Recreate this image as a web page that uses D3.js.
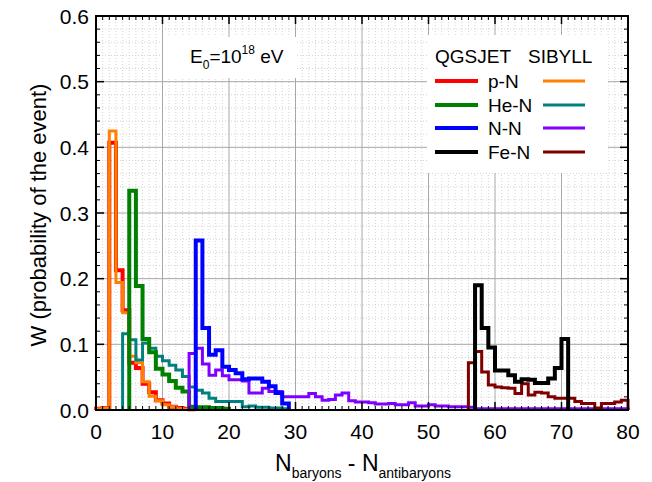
<!DOCTYPE html>
<html>
<head>
<meta charset="utf-8">
<script src="https://cdn.jsdelivr.net/npm/d3@7"></script>
<style>
  body { margin: 0; background: #fff; }
  svg { display: block; font-family: "Liberation Sans", Arial, sans-serif; }
</style>
</head>
<body>
<svg width="652" height="482"></svg>
<script>
const width = 652, height = 482;
const margin = { left: 96, right: 24, top: 16, bottom: 72 };

// histogram bins of width 1: first bin start, then W per bin
const pN_qgs_start = 0;
const pN_qgs = [0.002, 0.003, 0.407, 0.213, 0.152, 0.072, 0.064, 0.040, 0.027, 0.015, 0.010, 0.005, 0.003, 0.002, 0.001];
const pN_sib_start = 0;
const pN_sib = [0.002, 0.003, 0.425, 0.194, 0.148, 0.082, 0.072, 0.043, 0.021, 0.014, 0.008, 0.005, 0.002, 0.001];
const heN_qgs_start = 5;
const heN_qgs = [0.334, 0.189, 0.108, 0.088, 0.063, 0.054, 0.044, 0.034, 0.028, 0.005, 0.004, 0.004, 0.003, 0.003, 0.002];
const heN_sib_start = 4;
const heN_sib = [0.116, 0.107, 0.076, 0.102, 0.094, 0.082, 0.075, 0.068, 0.061, 0.051, 0.035, 0.030, 0.026, 0.018,
  0.013, 0.013, 0.013, 0.013, 0.005, 0.006, 0.004, 0.004, 0.003, 0.003, 0.002];
const nN_qgs_start = 15;
const nN_qgs = [0.258, 0.125, 0.084, 0.091, 0.066, 0.061, 0.056, 0.047, 0.048, 0.048, 0.043, 0.036, 0.026, 0.010];
const nN_sib_start = 14;
const nN_sib = [0.086, 0.094, 0.070, 0.053, 0.061, 0.052, 0.046, 0.046, 0.044, 0.026, 0.026, 0.033, 0.028, 0.028,
  0.020, 0.020, 0.020, 0.020, 0.025, 0.020, 0.015, 0.016, 0.023, 0.026, 0.014, 0.012, 0.012, 0.011, 0.009, 0.009,
  0.010, 0.008, 0.008, 0.011, 0.006, 0.006, 0.008, 0.006, 0.006, 0.005, 0.005, 0.005, 0.004,
  0.002, 0.002, 0.002, 0.002, 0.002, 0.002, 0.002, 0.002, 0.002, 0.002, 0.002, 0.002, 0.002, 0.002, 0.002,
  0.002, 0.002, 0.002, 0.002, 0.002, 0.002, 0.002, 0.002];
const feN_qgs_start = 57;
const feN_qgs = [0.190, 0.125, 0.095, 0.060, 0.060, 0.053, 0.043, 0.047, 0.046, 0.041, 0.041, 0.048, 0.064, 0.108];
const feN_sib_start = 56;
const feN_sib = [0.072, 0.089, 0.058, 0.038, 0.035, 0.034, 0.033, 0.025, 0.040, 0.023, 0.027, 0.026, 0.020, 0.018,
  0.018, 0.018, 0.013, 0.010, 0.010, 0.003, 0.010, 0.010, 0.012, 0.015];

const reactions = ["p-N", "He-N", "N-N", "Fe-N"];
const qgsColors = ["#ff0000", "#008000", "#0000ff", "#000000"];
const sibColors = ["#ff8000", "#008080", "#8000ff", "#800000"];

const xTicks = [0, 10, 20, 30, 40, 50, 60, 70, 80];
const yTicks = [0.0, 0.1, 0.2, 0.3, 0.4, 0.5, 0.6];

// drawing order: later ones on top
const series = [
  { start: pN_qgs_start, values: pN_qgs, color: qgsColors[0], w: 4 },
  { start: pN_sib_start, values: pN_sib, color: sibColors[0], w: 3 },
  { start: heN_sib_start, values: heN_sib, color: sibColors[1], w: 3 },
  { start: heN_qgs_start, values: heN_qgs, color: qgsColors[1], w: 4 },
  { start: nN_sib_start, values: nN_sib, color: sibColors[2], w: 3 },
  { start: nN_qgs_start, values: nN_qgs, color: qgsColors[2], w: 4 },
  { start: feN_sib_start, values: feN_sib, color: sibColors[3], w: 3 },
  { start: feN_qgs_start, values: feN_qgs, color: qgsColors[3], w: 4 }
];

const svg = d3.select("svg");
const x = d3.scaleLinear().domain([0, 80]).range([margin.left, width - margin.right]);
const y = d3.scaleLinear().domain([0, 0.6]).range([height - margin.bottom, margin.top]);
const x0 = x(0), x1 = x(80), y0 = y(0), y1 = y(0.6);

svg.append("rect").attr("width", width).attr("height", height).attr("fill", "#fff");

// minor dotted grid
const grid = svg.append("g");
grid.selectAll("line.mx").data(d3.range(1, 80).filter(d => d % 10 !== 0)).join("line")
  .attr("x1", d => x(d)).attr("x2", d => x(d)).attr("y1", y0).attr("y2", y1)
  .attr("stroke", "#d4d4d4").attr("stroke-dasharray", "1,2");
grid.selectAll("line.my").data(d3.range(1, 30).filter(d => d % 5 !== 0).map(d => d * 0.02)).join("line")
  .attr("x1", x0).attr("x2", x1).attr("y1", d => y(d)).attr("y2", d => y(d))
  .attr("stroke", "#d4d4d4").attr("stroke-dasharray", "1,2");
// major grid
grid.selectAll("line.gx").data(xTicks.slice(1, -1)).join("line")
  .attr("x1", d => x(d)).attr("x2", d => x(d)).attr("y1", y0).attr("y2", y1)
  .attr("stroke", "#a8a8a8").attr("stroke-width", 1);
grid.selectAll("line.gy").data(yTicks.slice(1, -1)).join("line")
  .attr("x1", x0).attr("x2", x1).attr("y1", d => y(d)).attr("y2", d => y(d))
  .attr("stroke", "#a8a8a8").attr("stroke-width", 1);

// histograms as steps
const line = d3.line().x(d => x(d[0])).y(d => y(d[1])).curve(d3.curveStepAfter);
const plot = svg.append("g");
series.forEach(s => {
  const pts = [[s.start, 0]];
  s.values.forEach((v, i) => pts.push([s.start + i, v]));
  pts.push([s.start + s.values.length, 0]);
  plot.append("path").attr("d", line(pts))
    .attr("fill", "none").attr("stroke", s.color).attr("stroke-width", s.w)
    .attr("stroke-linejoin", "miter");
});

// energy label box
const ebox = svg.append("g");
ebox.append("rect").attr("x", 163).attr("y", 37).attr("width", 134).attr("height", 41).attr("fill", "#fff");
const et = ebox.append("text").attr("x", 190).attr("y", 63).attr("font-size", 19).attr("fill", "#000");
et.append("tspan").text("E");
et.append("tspan").attr("font-size", 12).attr("dy", 6).text("0");
et.append("tspan").attr("dy", -6).text("=10");
et.append("tspan").attr("font-size", 12).attr("dy", -9).text("18");
et.append("tspan").attr("dy", 9).text(" eV");

// legend
const lg = svg.append("g");
lg.append("rect").attr("x", 427).attr("y", 35).attr("width", 181).attr("height", 138).attr("fill", "#fff");
lg.append("text").attr("x", 435).attr("y", 63).attr("font-size", 19).text("QGSJET");
lg.append("text").attr("x", 528).attr("y", 63).attr("font-size", 19).text("SIBYLL");
const rowY = [81, 105, 128, 152];
reactions.forEach((r, i) => {
  lg.append("line").attr("x1", 435).attr("x2", 478).attr("y1", rowY[i]).attr("y2", rowY[i])
    .attr("stroke", qgsColors[i]).attr("stroke-width", 4);
  lg.append("text").attr("x", 488).attr("y", rowY[i] + 7).attr("font-size", 19).text(r);
  lg.append("line").attr("x1", 543).attr("x2", 585).attr("y1", rowY[i]).attr("y2", rowY[i])
    .attr("stroke", sibColors[i]).attr("stroke-width", 3);
});

// frame and ticks
const ax = svg.append("g").attr("stroke", "#000");
const xMinor = d3.range(1, 80).filter(d => d % 10 !== 0);
const yMinor = d3.range(1, 30).filter(d => d % 5 !== 0).map(d => d * 0.02);
[[y0, -1], [y1, 1]].forEach(([yy, dir]) => {
  ax.selectAll(null).data(xTicks).join("line")
    .attr("x1", d => x(d)).attr("x2", d => x(d)).attr("y1", yy).attr("y2", yy + dir * 8).attr("stroke-width", 1.5);
  ax.selectAll(null).data(xMinor).join("line")
    .attr("x1", d => x(d)).attr("x2", d => x(d)).attr("y1", yy).attr("y2", yy + dir * 4).attr("stroke-width", 1);
});
[[x0, 1], [x1, -1]].forEach(([xx, dir]) => {
  ax.selectAll(null).data(yTicks).join("line")
    .attr("y1", d => y(d)).attr("y2", d => y(d)).attr("x1", xx).attr("x2", xx + dir * 8).attr("stroke-width", 1.5);
  ax.selectAll(null).data(yMinor).join("line")
    .attr("y1", d => y(d)).attr("y2", d => y(d)).attr("x1", xx).attr("x2", xx + dir * 4).attr("stroke-width", 1);
});
svg.append("rect").attr("x", x0).attr("y", y1).attr("width", x1 - x0).attr("height", y0 - y1)
  .attr("fill", "none").attr("stroke", "#000").attr("stroke-width", 2);

// tick labels
svg.append("g").selectAll("text").data(xTicks).join("text")
  .attr("x", d => x(d)).attr("y", 439).attr("text-anchor", "middle").attr("font-size", 21)
  .text(d => d);
svg.append("g").selectAll("text").data(yTicks).join("text")
  .attr("x", 89).attr("y", d => y(d) + 7.5).attr("text-anchor", "end").attr("font-size", 21)
  .text(d => d.toFixed(1));

// axis titles
svg.append("text").attr("transform", "translate(38,215) rotate(-90)")
  .attr("text-anchor", "middle").attr("dy", "0.35em").attr("font-size", 22)
  .text("W (probability of the event)");
const xt = svg.append("text").attr("x", 363).attr("y", 471).attr("text-anchor", "middle").attr("font-size", 23);
xt.append("tspan").text("N");
xt.append("tspan").attr("font-size", 14).attr("dy", 7).text("baryons");
xt.append("tspan").attr("dy", -7).text(" - N");
xt.append("tspan").attr("font-size", 14).attr("dy", 7).text("antibaryons");
</script>
</body>
</html>
